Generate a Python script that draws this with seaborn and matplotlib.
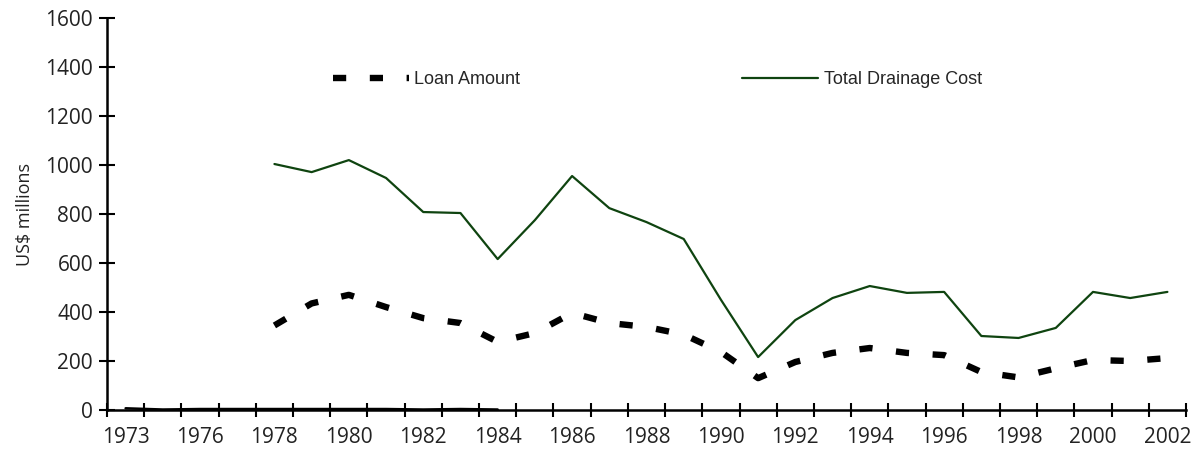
import numpy as np
import pandas as pd
import matplotlib
matplotlib.use("Agg")
import matplotlib.pyplot as plt
import seaborn as sns

# -------------------------------
# Data
# -------------------------------

years = ["1973", "1974", "1976", "1977", "1978", "1979", "1980", "1981", "1982",
         "1983", "1984", "1985", "1986", "1987", "1988", "1989", "1990", "1991",
         "1992", "1993", "1994", "1995", "1996", "1997", "1998", "1999", "2000",
         "2001", "2002"]
tick_labels = ["1973", "1976", "1978", "1980", "1982", "1984", "1986", "1988",
               "1990", "1992", "1994", "1996", "1998", "2000", "2002"]

nan = np.nan
loan_amount = [nan, nan, nan, nan, 345, 435, 470, 420, 375, 355, 278, 314,
               396, 355, 339, 308, 237, 130, 196, 233, 253, 233, 224, 155,
               133, 170, 204, 200, 212]
total_cost = [nan, nan, nan, nan, 1004, 971, 1020, 947, 808, 804, 616, 775,
              955, 824, 767, 698, 450, 216, 367, 457, 506, 478, 482, 302,
              294, 335, 482, 457, 482]
early_small = [7, 2, 4, 4, 4, 4, 4, 4, 2, 4, 2, nan, nan, nan, nan, nan, nan,
               nan, nan, nan, nan, nan, nan, nan, nan, nan, nan, nan, nan]

df = pd.DataFrame({
    "pos": np.arange(len(years)),
    "year": years,
    "loan": loan_amount,
    "total": total_cost,
    "early": early_small,
})

# -------------------------------
# Plot
# -------------------------------

sns.set_style("white")
plt.rcParams["font.family"] = ["Open Sans", "DejaVu Sans"]
plt.rcParams["lines.scale_dashes"] = False

fig = plt.figure(figsize=(11.92, 4.53), dpi=100)
ax = fig.add_axes([107 / 1192, 43 / 453, 1079 / 1192, 392 / 453])

sns.lineplot(data=df, x="pos", y="early", ax=ax, color="black", lw=1.8,
             legend=False)
sns.lineplot(data=df, x="pos", y="loan", ax=ax, color="black", lw=4.6,
             label="Loan Amount", linestyle=(0, (9.5, 17)))
sns.lineplot(data=df, x="pos", y="total", ax=ax, color="#0f4410", lw=1.6,
             label="Total Drainage Cost")

ax.set_xlim(-0.5, len(years) - 0.5)
ax.set_ylim(0, 1600)
ax.set_yticks(range(0, 1601, 200))

label_pos = [years.index(t) for t in tick_labels]
ax.set_xticks(label_pos)
ax.set_xticklabels(tick_labels)
ax.set_xticks(np.arange(-0.5, len(years)), minor=True)
ax.tick_params(axis="both", which="both", bottom=True, left=True,
               labelcolor="#222222", labelsize=15)
ax.tick_params(axis="x", which="major", length=0, pad=12)
ax.tick_params(axis="x", which="minor", direction="inout", length=10,
               width=1.5, color="black")
ax.tick_params(axis="y", which="major", direction="inout", length=12,
               width=1.5, color="black", pad=4)

ax.set_xlabel("")
ax.set_ylabel("US$ millions", fontsize=13, labelpad=8, color="#222222")

for side in ["top", "right"]:
    ax.spines[side].set_visible(False)
for side in ["left", "bottom"]:
    ax.spines[side].set_color("black")
    ax.spines[side].set_linewidth(1.8)

ax.legend(loc="center left", bbox_to_anchor=(333 / 1192, 1 - 80 / 453),
          bbox_transform=fig.transFigure, ncol=2, frameon=False,
          borderpad=0, borderaxespad=0, handlelength=4.2, handletextpad=0.3,
          columnspacing=12.3,
          prop={"family": ["Liberation Sans Narrow", "Liberation Sans"],
                "size": 13})

fig.savefig("out.png", dpi=100)
